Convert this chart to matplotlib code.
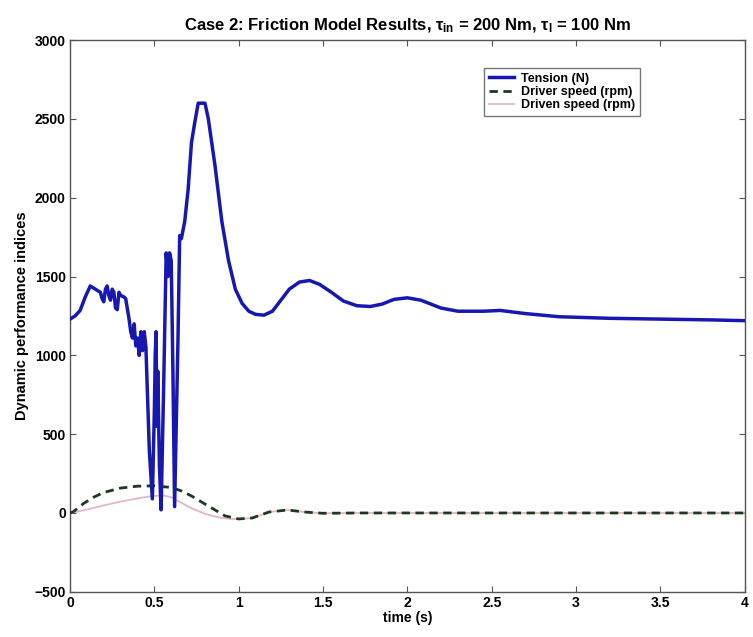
import matplotlib
matplotlib.use("Agg")
import matplotlib.pyplot as plt

# ---- data ----
tension_t = [0.00, 0.03, 0.06, 0.09, 0.12, 0.15, 0.18, 0.19, 0.20, 0.21, 0.22, 0.23, 0.24,
             0.25, 0.26, 0.27, 0.28, 0.29, 0.30, 0.32, 0.33, 0.35, 0.36, 0.37, 0.38, 0.39,
             0.40, 0.41, 0.42, 0.43, 0.44, 0.45, 0.47, 0.488, 0.50, 0.505, 0.51, 0.515,
             0.52, 0.53, 0.54, 0.555, 0.57, 0.58, 0.59, 0.60, 0.61, 0.62, 0.64, 0.65, 0.66,
             0.68, 0.70, 0.72, 0.74, 0.76, 0.80, 0.82, 0.86, 0.90, 0.94, 0.98, 1.02, 1.06,
             1.10, 1.15, 1.20, 1.25, 1.30, 1.36, 1.42, 1.48, 1.55, 1.62, 1.70, 1.78, 1.85,
             1.92, 2.00, 2.08, 2.20, 2.30, 2.45, 2.55, 2.70, 2.90, 3.20, 3.50, 3.80, 4.00]
tension_v = [1230, 1250, 1285, 1370, 1440, 1420, 1400, 1360, 1340, 1420, 1440, 1380, 1350,
             1420, 1400, 1300, 1290, 1400, 1380, 1370, 1360, 1230, 1150, 1110, 1200, 1060,
             1110, 1000, 1150, 1030, 1150, 1050, 400, 90, 650, 1000, 1150, 550,
             900, 300, 20, 800, 1650, 1500, 1650, 1600, 900, 40, 1100, 1760, 1740,
             1850, 2050, 2350, 2480, 2600, 2600, 2500, 2200, 1850, 1600, 1420, 1330, 1280,
             1260, 1255, 1280, 1350, 1420, 1465, 1475, 1450, 1400, 1345, 1315, 1310, 1325,
             1355, 1365, 1350, 1300, 1280, 1280, 1285, 1265, 1245, 1235, 1230, 1225, 1220]

driver_t = [0, 0.02, 0.08, 0.14, 0.2, 0.3, 0.4, 0.5, 0.6, 0.66, 0.72, 0.82, 0.92, 1.0,
            1.08, 1.18, 1.29, 1.39, 1.5, 1.7, 2.0, 2.5, 3.0, 3.5, 4.0]
driver_v = [0, 8, 60, 100, 130, 158, 170, 172, 162, 140, 108, 44, -19, -38,
            -32, 6, 19, 6, -2, 0, 0, 0, 0, 0, 0]

driven_t = [0, 0.05, 0.1, 0.2, 0.3, 0.4, 0.47, 0.55, 0.6, 0.65, 0.72, 0.8, 0.88, 0.95, 1.0,
            1.08, 1.18, 1.29, 1.39, 1.5, 1.7, 2.0, 2.5, 3.0, 3.5, 4.0]
driven_v = [0, 10, 22, 48, 72, 92, 105, 112, 100, 70, 30, -6, -28, -38, -39,
            -32, 6, 19, 6, -2, 0, 0, 0, 0, 0, 0]

xticks = [0, 0.5, 1, 1.5, 2, 2.5, 3, 3.5, 4]
xtick_labels = ["0", "0.5", "1", "1.5", "2", "2.5", "3", "3.5", "4"]
yticks = [-500, 0, 500, 1000, 1500, 2000, 2500, 3000]

plt.rcParams['font.family'] = ['Liberation Sans', 'DejaVu Sans']
plt.rcParams['font.weight'] = 'bold'
plt.rcParams['mathtext.fontset'] = 'custom'
plt.rcParams['mathtext.rm'] = 'Liberation Sans:bold'
plt.rcParams['mathtext.it'] = 'Liberation Sans:bold'

fig = plt.figure(figsize=(7.53, 6.37), dpi=100)
ax = fig.add_axes([0.093, 0.071, 0.896, 0.866])

ax.plot(driven_t, driven_v, color='#e2b8c6', lw=1.3, label='Driven speed (rpm)', zorder=2)
ax.plot(driver_t, driver_v, color='#1e3a1e', lw=2.0, ls=(0, (3, 2)), label='Driver speed (rpm)', zorder=3)
ax.plot(tension_t, tension_v, color='#1818b0', lw=2.5, label='Tension (N)', zorder=4)

ax.set_xlim(0, 4)
ax.set_ylim(-500, 3000)
ax.set_xticks(xticks)
ax.set_xticklabels(xtick_labels)
ax.set_yticks(yticks)
ax.tick_params(direction='in', top=True, right=True, labelsize=10, length=4, color='#555555', pad=3)
for lab in ax.get_xticklabels() + ax.get_yticklabels():
    lab.set_fontweight('bold')
for s in ax.spines.values():
    s.set_color('#555555')
    s.set_linewidth(1.0)

ax.set_xlabel('time (s)', fontsize=10, fontweight='bold', labelpad=1)
ax.set_ylabel('Dynamic performance indices', fontsize=10.5, fontweight='bold', labelpad=4)
ax.set_title(r'Case 2: Friction Model Results, $\tau_{in}$ = 200 Nm, $\tau_{l}$ = 100 Nm',
             fontsize=12, fontweight='bold', pad=7)

handles, labels = ax.get_legend_handles_labels()
order = [2, 1, 0]
leg = ax.legend([handles[i] for i in order], [labels[i] for i in order],
                loc='upper left', bbox_to_anchor=(0.605, 0.96),
                frameon=True, fancybox=False, handlelength=2.0, borderpad=0.35,
                labelspacing=0.1, handletextpad=0.6,
                prop={'weight': 'bold', 'size': 9})
leg.get_frame().set_edgecolor('#555555')
leg.get_frame().set_linewidth(1.0)

fig.savefig('out.png', dpi=100)
